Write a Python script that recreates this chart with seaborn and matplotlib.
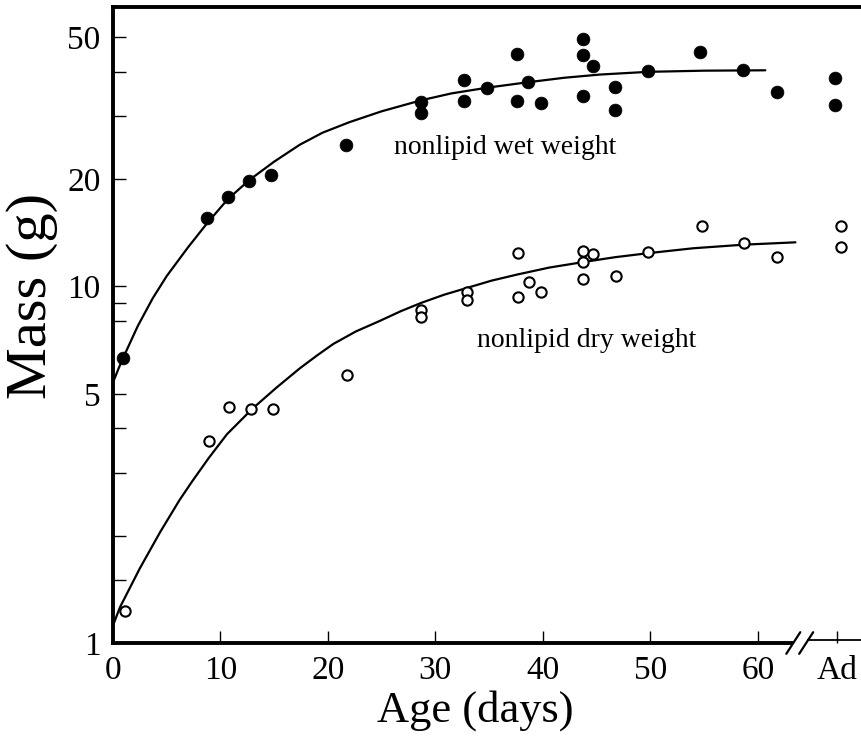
import matplotlib
matplotlib.use("Agg")
import matplotlib.pyplot as plt
import pandas as pd
import seaborn as sns

# ---------------- data ----------------
AD_POS = 67.4  # position of the "Ad" (adult) category on the age axis

wet_age = [0.9, 8.7, 10.7, 12.7, 14.7, 21.7, 28.7, 28.7, 32.7, 32.7, 34.8,
           37.6, 37.6, 38.6, 39.8, 43.7, 43.7, 44.7, 43.7, 46.7, 46.7,
           49.8, 54.6, 58.6, 61.8]
wet_mass = [6.3, 15.6, 17.8, 19.8, 20.5, 24.9, 32.9, 30.6, 37.9, 33.1, 36.0,
            44.8, 33.1, 37.4, 32.7, 49.4, 44.5, 41.5, 34.2, 36.2, 31.2,
            40.2, 45.4, 40.4, 35.1]
wet_adult = [38.4, 32.2]

dry_age = [1.1, 8.9, 10.8, 12.8, 14.9, 21.8, 28.7, 28.7, 32.9, 32.9, 37.7,
           37.7, 38.7, 39.8, 43.7, 43.7, 44.7, 43.7, 46.8, 49.8, 54.8,
           58.7, 61.8]
dry_mass = [1.23, 3.69, 4.6, 4.54, 4.54, 5.66, 8.57, 8.19, 9.62, 9.14, 12.4,
            9.37, 10.3, 9.68, 12.6, 11.7, 12.3, 10.5, 10.7, 12.5, 14.8,
            13.2, 12.1]
dry_adult = [14.8, 12.9]

# fitted growth curves
wet_curve_age = [0, 0.5, 1.0, 2.3, 3.7, 5.0, 7.0, 8.8, 10.7, 12.7, 15.0,
                 17.4, 19.5, 22.0, 25.0, 28.7, 31.5, 34.8, 38.6, 42.0, 45.3,
                 49.8, 55.0, 60.7]
wet_curve_mass = [5.38, 5.87, 6.36, 7.74, 9.27, 10.7, 12.9, 15.1, 17.6, 19.9,
                  22.4, 25.0, 27.0, 28.9, 31.0, 33.3, 34.8, 36.1, 37.4, 38.5,
                  39.3, 40.0, 40.3, 40.4]
dry_curve_age = [0, 0.65, 2.5, 4.4, 6.2, 7.4, 8.9, 10.6, 13.0, 15.2, 17.4,
                 19.0, 20.5, 22.6, 24.8, 26.8, 28.7, 30.8, 32.9, 35.2, 37.6,
                 40.6, 43.7, 46.7, 49.8, 54.0, 58.7, 63.5]
dry_curve_mass = [1.12, 1.26, 1.62, 2.05, 2.52, 2.85, 3.3, 3.85, 4.55, 5.2,
                  5.9, 6.41, 6.9, 7.48, 8.0, 8.53, 9.0, 9.48, 9.9, 10.38,
                  10.8, 11.3, 11.7, 12.08, 12.4, 12.8, 13.1, 13.3]

x_ticks = [0, 10, 20, 30, 40, 50, 60]
x_tick_labels = ["0", "10", "20", "30", "40", "50", "60", "Ad"]
y_major = [1, 5, 10, 20, 50]
y_minor = [1.5, 2, 3, 4, 8, 9, 30, 40]

# ---------------- tables ----------------
wet_df = pd.DataFrame({"age": wet_age + [AD_POS - 0.2] * len(wet_adult),
                       "mass": wet_mass + wet_adult})
dry_df = pd.DataFrame({"age": dry_age + [AD_POS + 0.3] * len(dry_adult),
                       "mass": dry_mass + dry_adult})
wet_curve = pd.DataFrame({"age": wet_curve_age, "mass": wet_curve_mass})
dry_curve = pd.DataFrame({"age": dry_curve_age, "mass": dry_curve_mass})

# ---------------- figure ----------------
sns.set_theme(style="ticks")
plt.rcParams["font.family"] = ["Liberation Serif", "DejaVu Serif"]
plt.rcParams["text.color"] = "black"
plt.rcParams["axes.labelcolor"] = "black"

fig = plt.figure(figsize=(8.61, 7.45), dpi=100)
ax = fig.add_axes([113 / 861, 102 / 745, 748 / 861, 636 / 745])

sns.lineplot(data=wet_curve, x="age", y="mass", ax=ax, color="black",
             lw=1.6, sort=False, estimator=None)
sns.lineplot(data=dry_curve, x="age", y="mass", ax=ax, color="black",
             lw=1.6, sort=False, estimator=None)
sns.scatterplot(data=wet_df, x="age", y="mass", ax=ax, color="black",
                s=85, marker="o", edgecolor="black", linewidth=0.5, zorder=3)
sns.scatterplot(data=dry_df, x="age", y="mass", ax=ax, facecolor="white",
                s=55, marker="o", edgecolor="black", linewidth=1.5, zorder=3)

ax.set_yscale("log")
ax.set_xlim(0, 69.6)
ax.set_ylim(1, 60.8)

ax.set_yticks(y_major)
ax.set_yticklabels([str(v) for v in y_major])
ax.set_yticks(y_minor, minor=True)
ax.set_yticklabels([], minor=True)
ax.set_xticks(x_ticks + [AD_POS])
ax.set_xticklabels(x_tick_labels)

ax.tick_params(axis="both", which="both", direction="in", length=9,
               width=1.0, colors="black", labelsize=24)
ax.tick_params(axis="y", which="major", pad=9)
ax.tick_params(axis="x", which="major", pad=9)

for side in ["left", "top", "bottom"]:
    ax.spines[side].set_linewidth(2.8)
    ax.spines[side].set_color("black")
ax.spines["right"].set_visible(False)

# broken x axis
ax.spines["bottom"].set_bounds(0, 63.1)
xt = ax.get_xaxis_transform()
ax.plot([64.6, 69.6], [0.004, 0.004], transform=xt, color="black",
        lw=1.3, clip_on=False, solid_capstyle="butt")
for cx in [63.3, 64.5]:
    ax.plot([cx - 0.65, cx + 0.65], [-0.017, 0.017], transform=xt,
            color="black", lw=1.6, clip_on=False)

ax.set_xlabel("Age (days)", fontsize=32, color="black")
ax.xaxis.set_label_coords(0.485, -0.074)
ax.set_ylabel("Mass (g)", fontsize=42, color="black")
ax.yaxis.set_label_coords(-0.073, 0.545)

ax.text(26.1, 23.5, "nonlipid wet weight", fontsize=20, ha="left",
        va="baseline", color="black")
ax.text(33.9, 6.78, "nonlipid dry weight", fontsize=20, ha="left",
        va="baseline", color="black")

fig.savefig("out.png", dpi=100)
